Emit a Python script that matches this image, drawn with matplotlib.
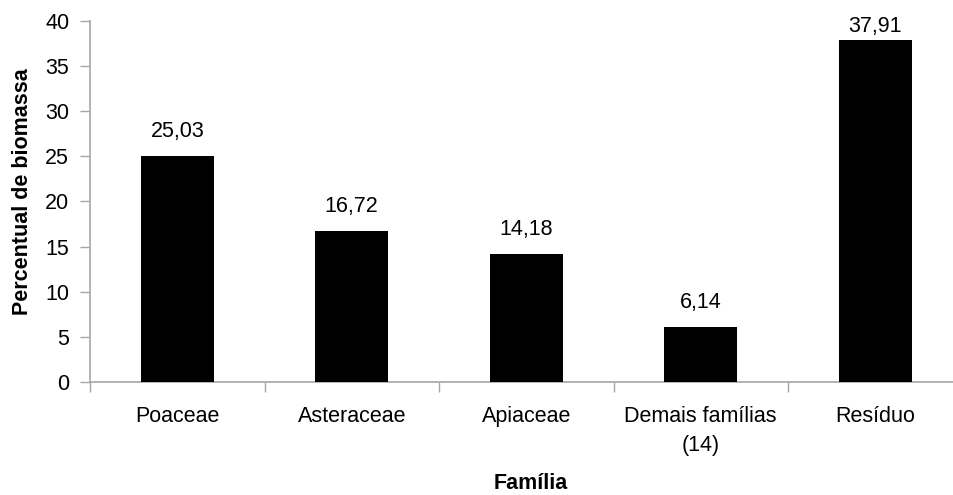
import matplotlib

matplotlib.use("Agg")
import matplotlib.pyplot as plt

familias = ["Poaceae", "Asteraceae", "Apiaceae", "Demais famílias\n(14)", "Resíduo"]
percentual = [25.03, 16.72, 14.18, 6.14, 37.91]
rotulos = ["25,03", "16,72", "14,18", "6,14", "37,91"]

plt.rcParams["font.family"] = ["Liberation Sans", "DejaVu Sans"]

AXIS_GRAY = "#a6a6a6"
FS = 15.5
Y_MAX = 40

fig = plt.figure(figsize=(9.54, 4.95), dpi=100)
ax = fig.add_axes([90 / 954, 113 / 495, 872.5 / 954, 361 / 495])

x = list(range(len(familias)))
ax.bar(x, percentual, width=0.42, color="black", zorder=3)
# value labels sit above the bar, but are kept inside the plot area at the top
for xi, val, txt in zip(x, percentual, rotulos):
    ax.text(xi, min(val + 2.1, Y_MAX - 1.22), txt,
            ha="center", va="baseline", fontsize=FS)

ax.set_xlim(-0.5, len(familias) - 0.5)
ax.set_ylim(0, Y_MAX)
ax.set_yticks(range(0, Y_MAX + 1, 5))

# category labels centred, tick marks on the boundaries between categories
ax.set_xticks(x)
ax.set_xticklabels(familias, fontsize=FS, linespacing=1.5, va="top")
ax.tick_params(axis="x", length=0, pad=17)
ax.set_xticks([i - 0.5 for i in range(len(familias) + 1)], minor=True)
ax.tick_params(axis="x", which="minor", length=7, color=AXIS_GRAY, width=1)
ax.tick_params(axis="y", length=7, color=AXIS_GRAY, width=1, labelsize=FS, pad=8)

for side in ["top", "right"]:
    ax.spines[side].set_visible(False)
for side in ["left", "bottom"]:
    ax.spines[side].set_color(AXIS_GRAY)
    ax.spines[side].set_linewidth(1.2)

ax.set_ylabel("Percentual de biomassa", fontsize=FS, fontweight="bold")
ax.set_xlabel("Família", fontsize=FS, fontweight="bold")
ax.yaxis.set_label_coords(-0.0655, 0.526)
ax.xaxis.set_label_coords(0.505, -0.252)

fig.savefig("out.png", dpi=100, facecolor="white")
